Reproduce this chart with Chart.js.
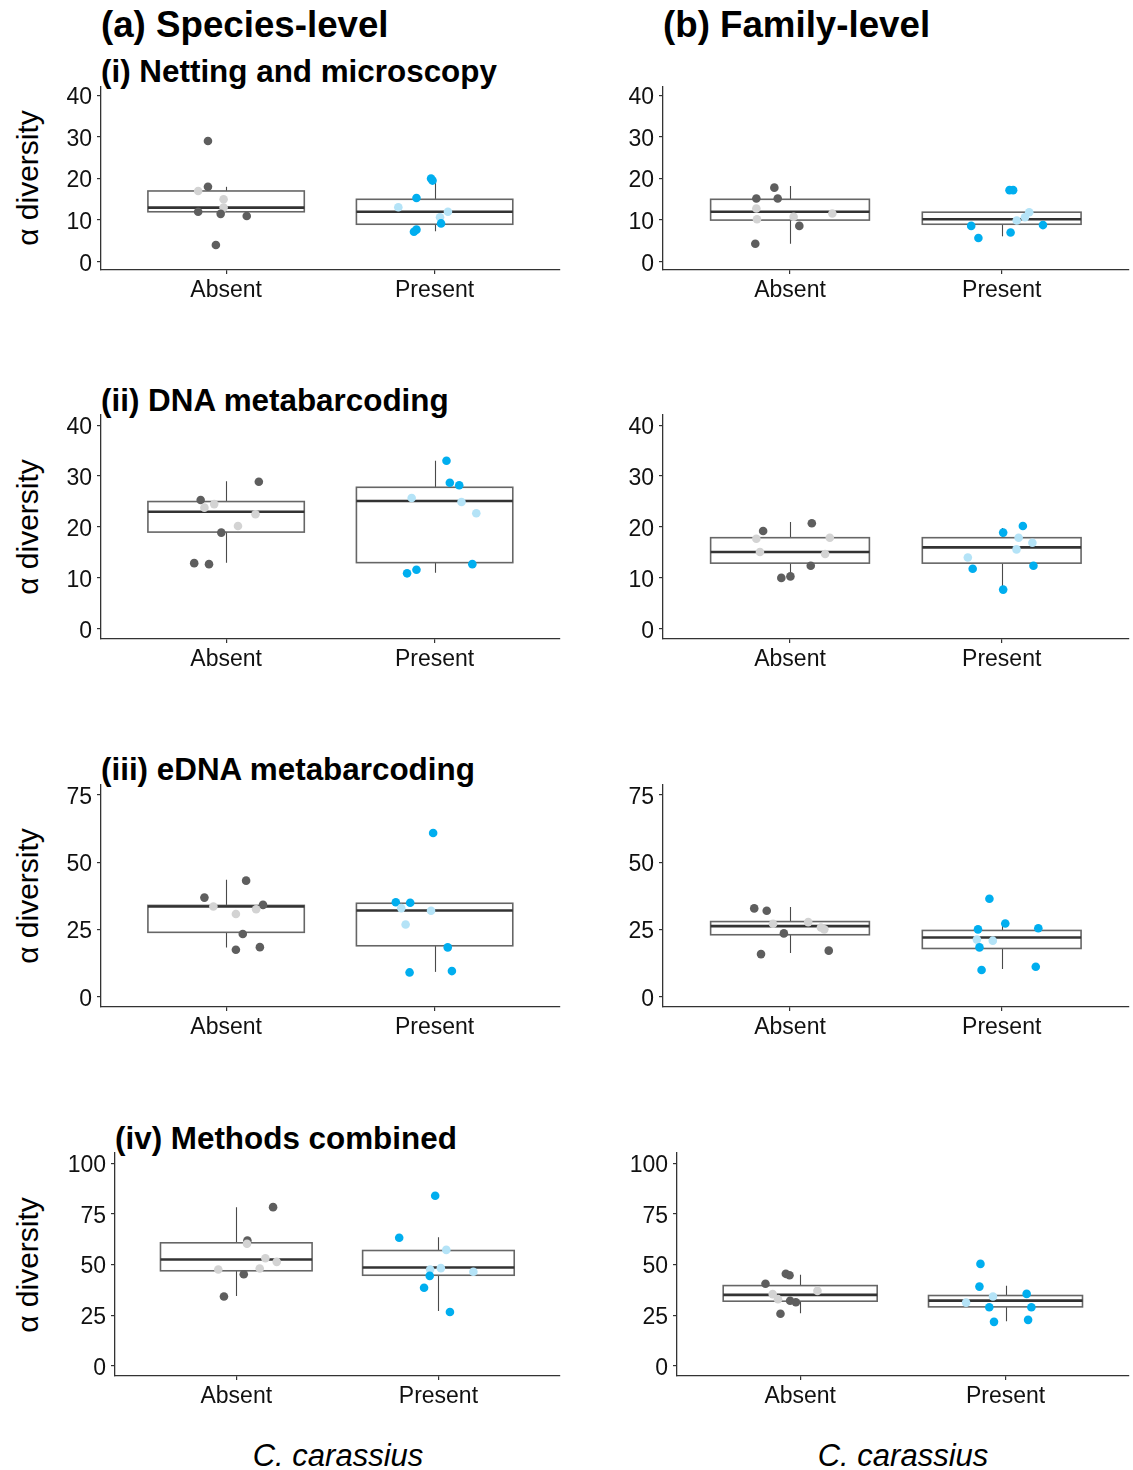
<!DOCTYPE html>
<html>
<head>
<meta charset="utf-8">
<script src="https://cdn.jsdelivr.net/npm/chart.js@4.4.1/dist/chart.umd.min.js"></script>
<style>
html,body{margin:0;padding:0;background:#fff;}
#wrap{position:relative;width:1133px;height:1470px;overflow:hidden;font-family:"Liberation Sans",Arial,sans-serif;color:#000;background:#fff;}
canvas{position:absolute;}
.t{position:absolute;white-space:nowrap;line-height:1;}
.h1{font-weight:bold;font-size:36.7px;transform:translateY(-50%);}
.h2{font-weight:bold;font-size:31.4px;transform:translateY(-50%);}
.yl{font-size:30px;transform:translate(-50%,-50%) rotate(-90deg);}
.xl{font-size:31px;font-style:italic;transform:translate(-50%,-50%);}
</style>
</head>
<body>
<div id="wrap">
  <div class="t h1" style="left:101px;top:25px;">(a) Species-level</div>
  <div class="t h1" style="left:663px;top:25px;">(b) Family-level</div>
  <div class="t h2" style="left:101px;top:72px;">(i) Netting and microscopy</div>
  <div class="t h2" style="left:101px;top:401px;">(ii) DNA metabarcoding</div>
  <div class="t h2" style="left:101px;top:770px;">(iii) eDNA metabarcoding</div>
  <div class="t h2" style="left:115px;top:1139px;">(iv) Methods combined</div>
  <div class="t yl" style="left:28px;top:178px;">α diversity</div>
  <div class="t yl" style="left:28px;top:527px;">α diversity</div>
  <div class="t yl" style="left:28px;top:896px;">α diversity</div>
  <div class="t yl" style="left:28px;top:1265px;">α diversity</div>
  <div class="t xl" style="left:338px;top:1455px;">C. carassius</div>
  <div class="t xl" style="left:903px;top:1455px;">C. carassius</div>
</div>
<script>
// ---------- DATA ----------
const categories = ['Absent', 'Present'];
const ticks40 = [0, 10, 20, 30, 40];
const ticks75 = [0, 25, 50, 75];
const ticks100 = [0, 25, 50, 75, 100];

// (i) Netting and microscopy — species
const netSpAbsent   = [29, 18, 17, 15, 13, 12, 11.5, 11, 4];
const netSpAbsentJ  = [-0.087, -0.087, -0.134, -0.012, -0.012, -0.134, -0.026, 0.099, -0.049];
const netSpAbsentG  = ['A','A','B','B','B','A','A','A','A'];
const netSpPresent  = [20, 19.5, 15.3, 13.1, 12, 10.7, 9.2, 7.7, 7.2];
const netSpPresentJ = [-0.017, -0.01, -0.087, -0.174, 0.064, 0.026, 0.031, -0.087, -0.099];
const netSpPresentG = ['A','A','A','B','B','B','A','A','A'];
const netSpBox = [[12, 13, 17, 12, 18], [9, 12, 15, 7.3, 20]]; // q1, median, q3, whisker low, whisker high

// (i) Netting and microscopy — family
const netFamAbsent   = [17.8, 15.2, 15.2, 12.8, 10.2, 10.8, 11.6, 8.6, 4.3];
const netFamAbsentJ  = [-0.074, -0.159, -0.058, -0.159, -0.156, 0.017, 0.2, 0.044, -0.164];
const netFamAbsentG  = ['A','A','A','B','B','B','B','A','A'];
const netFamPresent  = [17.2, 17.2, 11.9, 10.7, 9.9, 8.6, 8.8, 7.0, 5.7];
const netFamPresentJ = [0.037, 0.054, 0.13, 0.11, 0.071, -0.144, 0.195, 0.042, -0.11];
const netFamPresentG = ['A','A','B','B','B','A','A','A','A'];
const netFamBox = [[10, 12, 15, 4.3, 18.2], [9, 10.2, 11.9, 6.1, 11.9]];

// (ii) DNA metabarcoding — species
const dnaSpAbsent   = [28.9, 25.3, 24.5, 23.8, 22.5, 20.2, 18.9, 12.9, 12.7];
const dnaSpAbsentJ  = [0.157, -0.122, -0.057, -0.104, 0.141, 0.057, -0.023, -0.153, -0.082];
const dnaSpAbsentG  = ['A','A','B','B','B','B','A','A','A'];
const dnaSpPresent  = [33, 28.7, 28.2, 25.7, 24.9, 22.7, 12.7, 11.6, 10.9];
const dnaSpPresentJ = [0.057, 0.073, 0.118, -0.11, 0.129, 0.2, 0.181, -0.087, -0.132];
const dnaSpPresentG = ['A','A','A','B','B','B','A','A','A'];
const dnaSpBox = [[19, 23, 25, 13, 29], [13, 25.1, 27.8, 11, 33]];

// (ii) DNA metabarcoding — family
const dnaFamAbsent   = [20.75, 19.2, 17.7, 17.9, 15.1, 14.7, 12.4, 10.0, 10.3];
const dnaFamAbsentJ  = [0.103, -0.127, -0.159, 0.188, -0.142, 0.166, 0.098, -0.041, 0.002];
const dnaFamAbsentG  = ['A','A','B','B','B','B','A','A','A'];
const dnaFamPresent  = [20.2, 18.9, 17.9, 16.9, 15.6, 14.0, 11.8, 12.4, 7.7];
const dnaFamPresentJ = [0.1, 0.007, 0.08, 0.145, 0.07, -0.16, -0.137, 0.15, 0.007];
const dnaFamPresentG = ['A','A','B','B','B','B','A','A','A'];
const dnaFamBox = [[12.9, 15.1, 17.9, 10.2, 21], [12.9, 16, 17.9, 7.7, 19.8]];

// (iii) eDNA metabarcoding — species
const ednaSpAbsent   = [43.2, 36.9, 33.6, 34.2, 32.6, 30.8, 23.4, 18.5, 17.5];
const ednaSpAbsentJ  = [0.096, -0.104, -0.061, 0.177, 0.144, 0.047, 0.08, 0.162, 0.047];
const ednaSpAbsentG  = ['A','A','B','A','B','B','A','A','A'];
const ednaSpPresent  = [60.9, 35.2, 35.0, 33.0, 32.0, 26.9, 18.4, 9.1, 9.6];
const ednaSpPresentJ = [-0.007, -0.186, -0.117, -0.16, -0.017, -0.139, 0.063, -0.12, 0.083];
const ednaSpPresentG = ['A','A','A','B','B','B','A','A','A'];
const ednaSpBox = [[24, 33.6, 34, 18.4, 43.5], [19, 32.1, 34.8, 9.3, 34.8]];

// (iii) eDNA metabarcoding — family
const ednaFamAbsent   = [32.9, 32.0, 27.2, 27.8, 23.6, 25.8, 25.1, 15.9, 17.2];
const ednaFamAbsentJ  = [-0.169, -0.11, -0.08, 0.086, -0.029, 0.146, 0.162, -0.137, 0.183];
const ednaFamAbsentG  = ['A','A','B','B','A','B','B','A','A'];
const ednaFamPresent  = [36.5, 27.3, 25.5, 25.1, 21.3, 20.9, 18.4, 10.0, 11.2];
const ednaFamPresentJ = [-0.058, 0.017, 0.173, -0.112, -0.117, -0.042, -0.105, -0.095, 0.161];
const ednaFamPresentG = ['A','A','A','A','B','B','A','A','A'];
const ednaFamBox = [[23.1, 26.3, 28, 16.3, 33.4], [18, 22.1, 24.7, 10.4, 27.4]];

// (iv) Methods combined — species
const combSpAbsent   = [78.3, 61.8, 60.2, 53.1, 51.3, 47.5, 48.0, 45.2, 34.2];
const combSpAbsentJ  = [0.182, 0.055, 0.053, 0.144, 0.2, -0.089, 0.116, 0.037, -0.061];
const combSpAbsentG  = ['A','A','B','B','B','B','B','A','A'];
const combSpPresent  = [83.9, 63.2, 57.2, 47.5, 48.2, 46.4, 44.4, 38.5, 26.6];
const combSpPresentJ = [-0.016, -0.194, 0.039, -0.041, 0.012, 0.173, -0.043, -0.071, 0.057];
const combSpPresentG = ['A','A','B','B','B','B','A','A','A'];
const combSpBox = [[46.9, 52.5, 60.7, 34.5, 78.3], [44.7, 48.5, 56.9, 27.1, 63.5]];

// (iv) Methods combined — family
const combFamAbsent   = [45.4, 44.7, 40.5, 37.0, 35.4, 32.9, 32.1, 31.4, 25.7];
const combFamAbsentJ  = [-0.07, -0.052, -0.169, 0.084, -0.134, -0.108, -0.049, -0.021, -0.096];
const combFamAbsentG  = ['A','A','A','B','B','B','A','A','A'];
const combFamPresent  = [50.3, 39.1, 35.5, 34.2, 31.2, 28.9, 28.9, 22.7, 21.7];
const combFamPresentJ = [-0.122, -0.127, 0.103, -0.061, -0.192, -0.079, 0.126, 0.11, -0.056];
const combFamPresentG = ['A','A','A','B','B','A','A','A','A'];
const combFamBox = [[31.9, 35, 39.6, 26, 44.9], [29.1, 32.2, 34.7, 22, 39.5]];

// ---------- STYLE / LAYOUT ----------
const FONT = '"Liberation Sans", Arial, sans-serif';
const pointColors = [
  { A: '#5e5e5e', B: '#d3d3d3' },   // Absent
  { A: '#00aeef', B: '#b4e3f7' }    // Present
];
const YW = 70, XH = 40, PT = 20, PR = 2;

const boxPlugin = {
  id: 'boxes',
  beforeDatasetsDraw(chart, args, opts) {
    const { ctx } = chart;
    const x = chart.scales.x, y = chart.scales.y;
    (opts.stats || []).forEach((s, i) => {
      const [q1, med, q3, lo, hi] = s;
      const c = i + 1;
      const xl = x.getPixelForValue(c - 0.375);
      const xr = x.getPixelForValue(c + 0.375);
      const xc = Math.round(x.getPixelForValue(c)) + 0.5;
      const yq1 = y.getPixelForValue(q1), yq3 = y.getPixelForValue(q3);
      const ym = y.getPixelForValue(med);
      ctx.save();
      ctx.strokeStyle = '#4a4a4a';
      ctx.lineWidth = 1.1;
      ctx.beginPath();
      ctx.moveTo(xc, yq3); ctx.lineTo(xc, y.getPixelForValue(hi));
      ctx.moveTo(xc, yq1); ctx.lineTo(xc, y.getPixelForValue(lo));
      ctx.stroke();
      ctx.fillStyle = '#ffffff';
      ctx.fillRect(xl, yq3, xr - xl, yq1 - yq3);
      ctx.strokeStyle = '#666666';
      ctx.lineWidth = 1.6;
      ctx.strokeRect(xl, yq3, xr - xl, yq1 - yq3);
      ctx.strokeStyle = '#333333';
      ctx.lineWidth = 2.6;
      ctx.beginPath(); ctx.moveTo(xl, ym); ctx.lineTo(xr, ym); ctx.stroke();
      ctx.restore();
    });
  }
};

function buildPoints(vals, jit, groups, catIdx) {
  return {
    data: vals.map((v, i) => ({ x: catIdx + 1 + jit[i], y: v })),
    colors: groups.map(g => pointColors[catIdx][g])
  };
}

function makePanel(rect, yMin, yMax, yTicks, abs, pres, stats) {
  const left = rect.L - YW;
  const top = rect.T - PT;
  const width = rect.R - left + PR;
  const height = (rect.B - rect.T) + PT + XH;
  const cv = document.createElement('canvas');
  cv.width = width; cv.height = height;
  cv.style.left = left + 'px'; cv.style.top = top + 'px';
  cv.style.width = width + 'px'; cv.style.height = height + 'px';
  document.getElementById('wrap').appendChild(cv);

  const pa = buildPoints(abs[0], abs[1], abs[2], 0);
  const pp = buildPoints(pres[0], pres[1], pres[2], 1);
  const axisCommon = {
    grid: { drawOnChartArea: false, drawTicks: true, tickLength: 4, color: '#333', lineWidth: 1.2 },
    border: { display: true, color: '#333', width: 1.3 },
  };
  new Chart(cv, {
    type: 'scatter',
    data: {
      datasets: [
        { label: categories[0], data: pa.data, pointBackgroundColor: pa.colors, pointBorderWidth: 0, pointRadius: 4.3, pointHoverRadius: 4.3 },
        { label: categories[1], data: pp.data, pointBackgroundColor: pp.colors, pointBorderWidth: 0, pointRadius: 4.3, pointHoverRadius: 4.3 }
      ]
    },
    options: {
      responsive: false,
      animation: false,
      devicePixelRatio: 1,
      layout: { padding: { top: PT, right: PR, left: 0, bottom: 0 } },
      plugins: { legend: { display: false }, tooltip: { enabled: false }, boxes: { stats } },
      scales: {
        x: Object.assign({
          type: 'linear', min: 0.4, max: 2.6,
          afterFit: s => { s.height = XH; },
          afterBuildTicks: s => { s.ticks = categories.map((c, i) => ({ value: i + 1 })); },
          ticks: { callback: v => categories[Math.round(v) - 1], font: { family: FONT, size: 23 }, color: '#111', padding: 3, maxRotation: 0, autoSkip: false }
        }, axisCommon),
        y: Object.assign({
          type: 'linear', min: yMin, max: yMax,
          afterFit: s => { s.width = YW; },
          afterBuildTicks: s => { s.ticks = yTicks.map(v => ({ value: v })); },
          ticks: { font: { family: FONT, size: 23 }, color: '#111', padding: 5, labelOffset: 2.5, autoSkip: false }
        }, axisCommon)
      }
    },
    plugins: [boxPlugin]
  });
}

const rowI   = { T: 87,   B: 270 };
const rowII  = { T: 415,  B: 639 };
const rowIII = { T: 785,  B: 1007 };
const rowIV  = { T: 1153, B: 1376 };

makePanel({ L: 101, R: 562, ...rowI }, -2, 42, ticks40,
  [netSpAbsent, netSpAbsentJ, netSpAbsentG], [netSpPresent, netSpPresentJ, netSpPresentG], netSpBox);
makePanel({ L: 663, R: 1131, ...rowI }, -2, 42, ticks40,
  [netFamAbsent, netFamAbsentJ, netFamAbsentG], [netFamPresent, netFamPresentJ, netFamPresentG], netFamBox);
makePanel({ L: 101, R: 562, ...rowII }, -2, 42, ticks40,
  [dnaSpAbsent, dnaSpAbsentJ, dnaSpAbsentG], [dnaSpPresent, dnaSpPresentJ, dnaSpPresentG], dnaSpBox);
makePanel({ L: 663, R: 1131, ...rowII }, -2, 42, ticks40,
  [dnaFamAbsent, dnaFamAbsentJ, dnaFamAbsentG], [dnaFamPresent, dnaFamPresentJ, dnaFamPresentG], dnaFamBox);
makePanel({ L: 101, R: 562, ...rowIII }, -3.75, 78.75, ticks75,
  [ednaSpAbsent, ednaSpAbsentJ, ednaSpAbsentG], [ednaSpPresent, ednaSpPresentJ, ednaSpPresentG], ednaSpBox);
makePanel({ L: 663, R: 1131, ...rowIII }, -3.75, 78.75, ticks75,
  [ednaFamAbsent, ednaFamAbsentJ, ednaFamAbsentG], [ednaFamPresent, ednaFamPresentJ, ednaFamPresentG], ednaFamBox);
makePanel({ L: 115, R: 562, ...rowIV }, -5, 105, ticks100,
  [combSpAbsent, combSpAbsentJ, combSpAbsentG], [combSpPresent, combSpPresentJ, combSpPresentG], combSpBox);
makePanel({ L: 677, R: 1131, ...rowIV }, -5, 105, ticks100,
  [combFamAbsent, combFamAbsentJ, combFamAbsentG], [combFamPresent, combFamPresentJ, combFamPresentG], combFamBox);
</script>
</body>
</html>
